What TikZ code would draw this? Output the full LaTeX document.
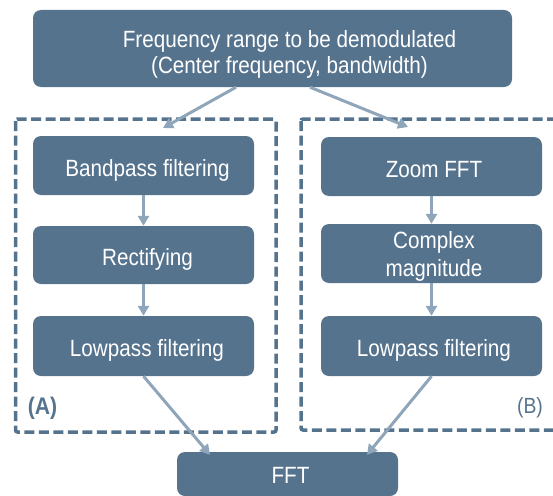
\documentclass[tikz,border=0pt]{standalone}
\usepackage{fontspec}
\setmainfont{Liberation Sans}[FakeStretch=0.88]
\usetikzlibrary{arrows.meta}
\definecolor{boxfill}{HTML}{56738E}
\definecolor{arrowc}{HTML}{8EA5BA}
\definecolor{dashc}{HTML}{56738E}
% one line of text: horizontal shift, baseline drop below centre, text
\newcommand\oneline[3]{\raisebox{-#2}[0pt][0pt]{\makebox[0pt]{\hspace*{#1}\hspace*{#1}#3}}}
% two lines: horizontal shift, drop of last baseline, first line, second line
\newcommand\twoline[4]{\raisebox{-#2}[0pt][0pt]{\makebox[0pt]{\hspace*{#1}\hspace*{#1}\begin{tabular}[b]{@{}c@{}}#3\\#4\end{tabular}}}}
\tikzset{
  stepbox/.style={draw=none, fill=boxfill, rounded corners=8pt, text=white,
    font=\fontsize{23.5}{27.5}\selectfont, inner sep=0pt},
  flow/.style={draw=arrowc, line width=3pt, -{Triangle[width=11pt,length=10pt]}},
  group/.style={draw=dashc, line width=3.5pt, dash pattern=on 10pt off 4.5pt, rounded corners=2pt},
  lbl/.style={text=dashc, font=\fontsize{22}{26}\selectfont, inner sep=0pt}
}
\begin{document}
\begin{tikzpicture}[x=1pt,y=-1pt]
\useasboundingbox (0,0) rectangle (553,495);
\begin{scope}
\clip (0,0) rectangle (553,495);
% dashed groups
\draw[group] (15.5,119) rectangle (276,432);
\draw[group] (301,119) rectangle (570,430);
% nodes
\node[stepbox, minimum width=479pt, minimum height=77pt, font=\fontsize{23.5}{25}\selectfont] (top) at (272.5,48.5)
  {\twoline{17pt}{24.5pt}{Frequency range to be demodulated}{(Center frequency, bandwidth)}};
\node[stepbox, minimum width=221pt, minimum height=59pt] (bpA) at (143.5,165.5) {\oneline{4pt}{11pt}{Bandpass filtering}};
\node[stepbox, minimum width=221pt, minimum height=58pt] (recA) at (143.5,255) {\oneline{4pt}{10.5pt}{Rectifying}};
\node[stepbox, minimum width=221pt, minimum height=60pt] (lpA) at (143.5,346) {\oneline{3.5pt}{10.5pt}{Lowpass filtering}};
\node[stepbox, minimum width=221pt, minimum height=59pt] (zB) at (431.5,166.5) {\oneline{2.5pt}{10.5pt}{Zoom FFT}};
\node[stepbox, minimum width=221pt, minimum height=59pt, font=\fontsize{23.5}{27.7}\selectfont] (cmB) at (431.5,253.5)
  {\twoline{2.5pt}{23pt}{Complex}{magnitude}};
\node[stepbox, minimum width=221pt, minimum height=60pt] (lpB) at (431.5,346) {\oneline{2.5pt}{10.5pt}{Lowpass filtering}};
\node[stepbox, minimum width=221pt, minimum height=44pt] (fft) at (287.5,474) {\oneline{3pt}{9pt}{FFT}};
% labels
\node[lbl, font=\bfseries\fontsize{24}{28}\selectfont] (labA) at (42.5,408) {(A)};
\node[lbl] (labB) at (530,408) {(B)};
% arrow end coordinates
\coordinate (inA) at (163,128);
\coordinate (inB) at (408,127);
% arrows
\draw[flow] ([xshift=-36.5pt]top.south) -- (inA);
\draw[flow] ([xshift=37.5pt]top.south) -- (inB);
\draw[flow] (bpA.south) -- (recA.north);
\draw[flow] (recA.south) -- (lpA.north);
\draw[flow] (zB.south) -- (cmB.north);
\draw[flow] (cmB.south) -- (lpB.north);
\draw[flow] (lpA.south) -- ([xshift=-77.5pt,yshift=-3pt]fft.north);
\draw[flow] (lpB.south) -- ([xshift=79.5pt,yshift=-3pt]fft.north);
\end{scope}
\end{tikzpicture}
\end{document}
